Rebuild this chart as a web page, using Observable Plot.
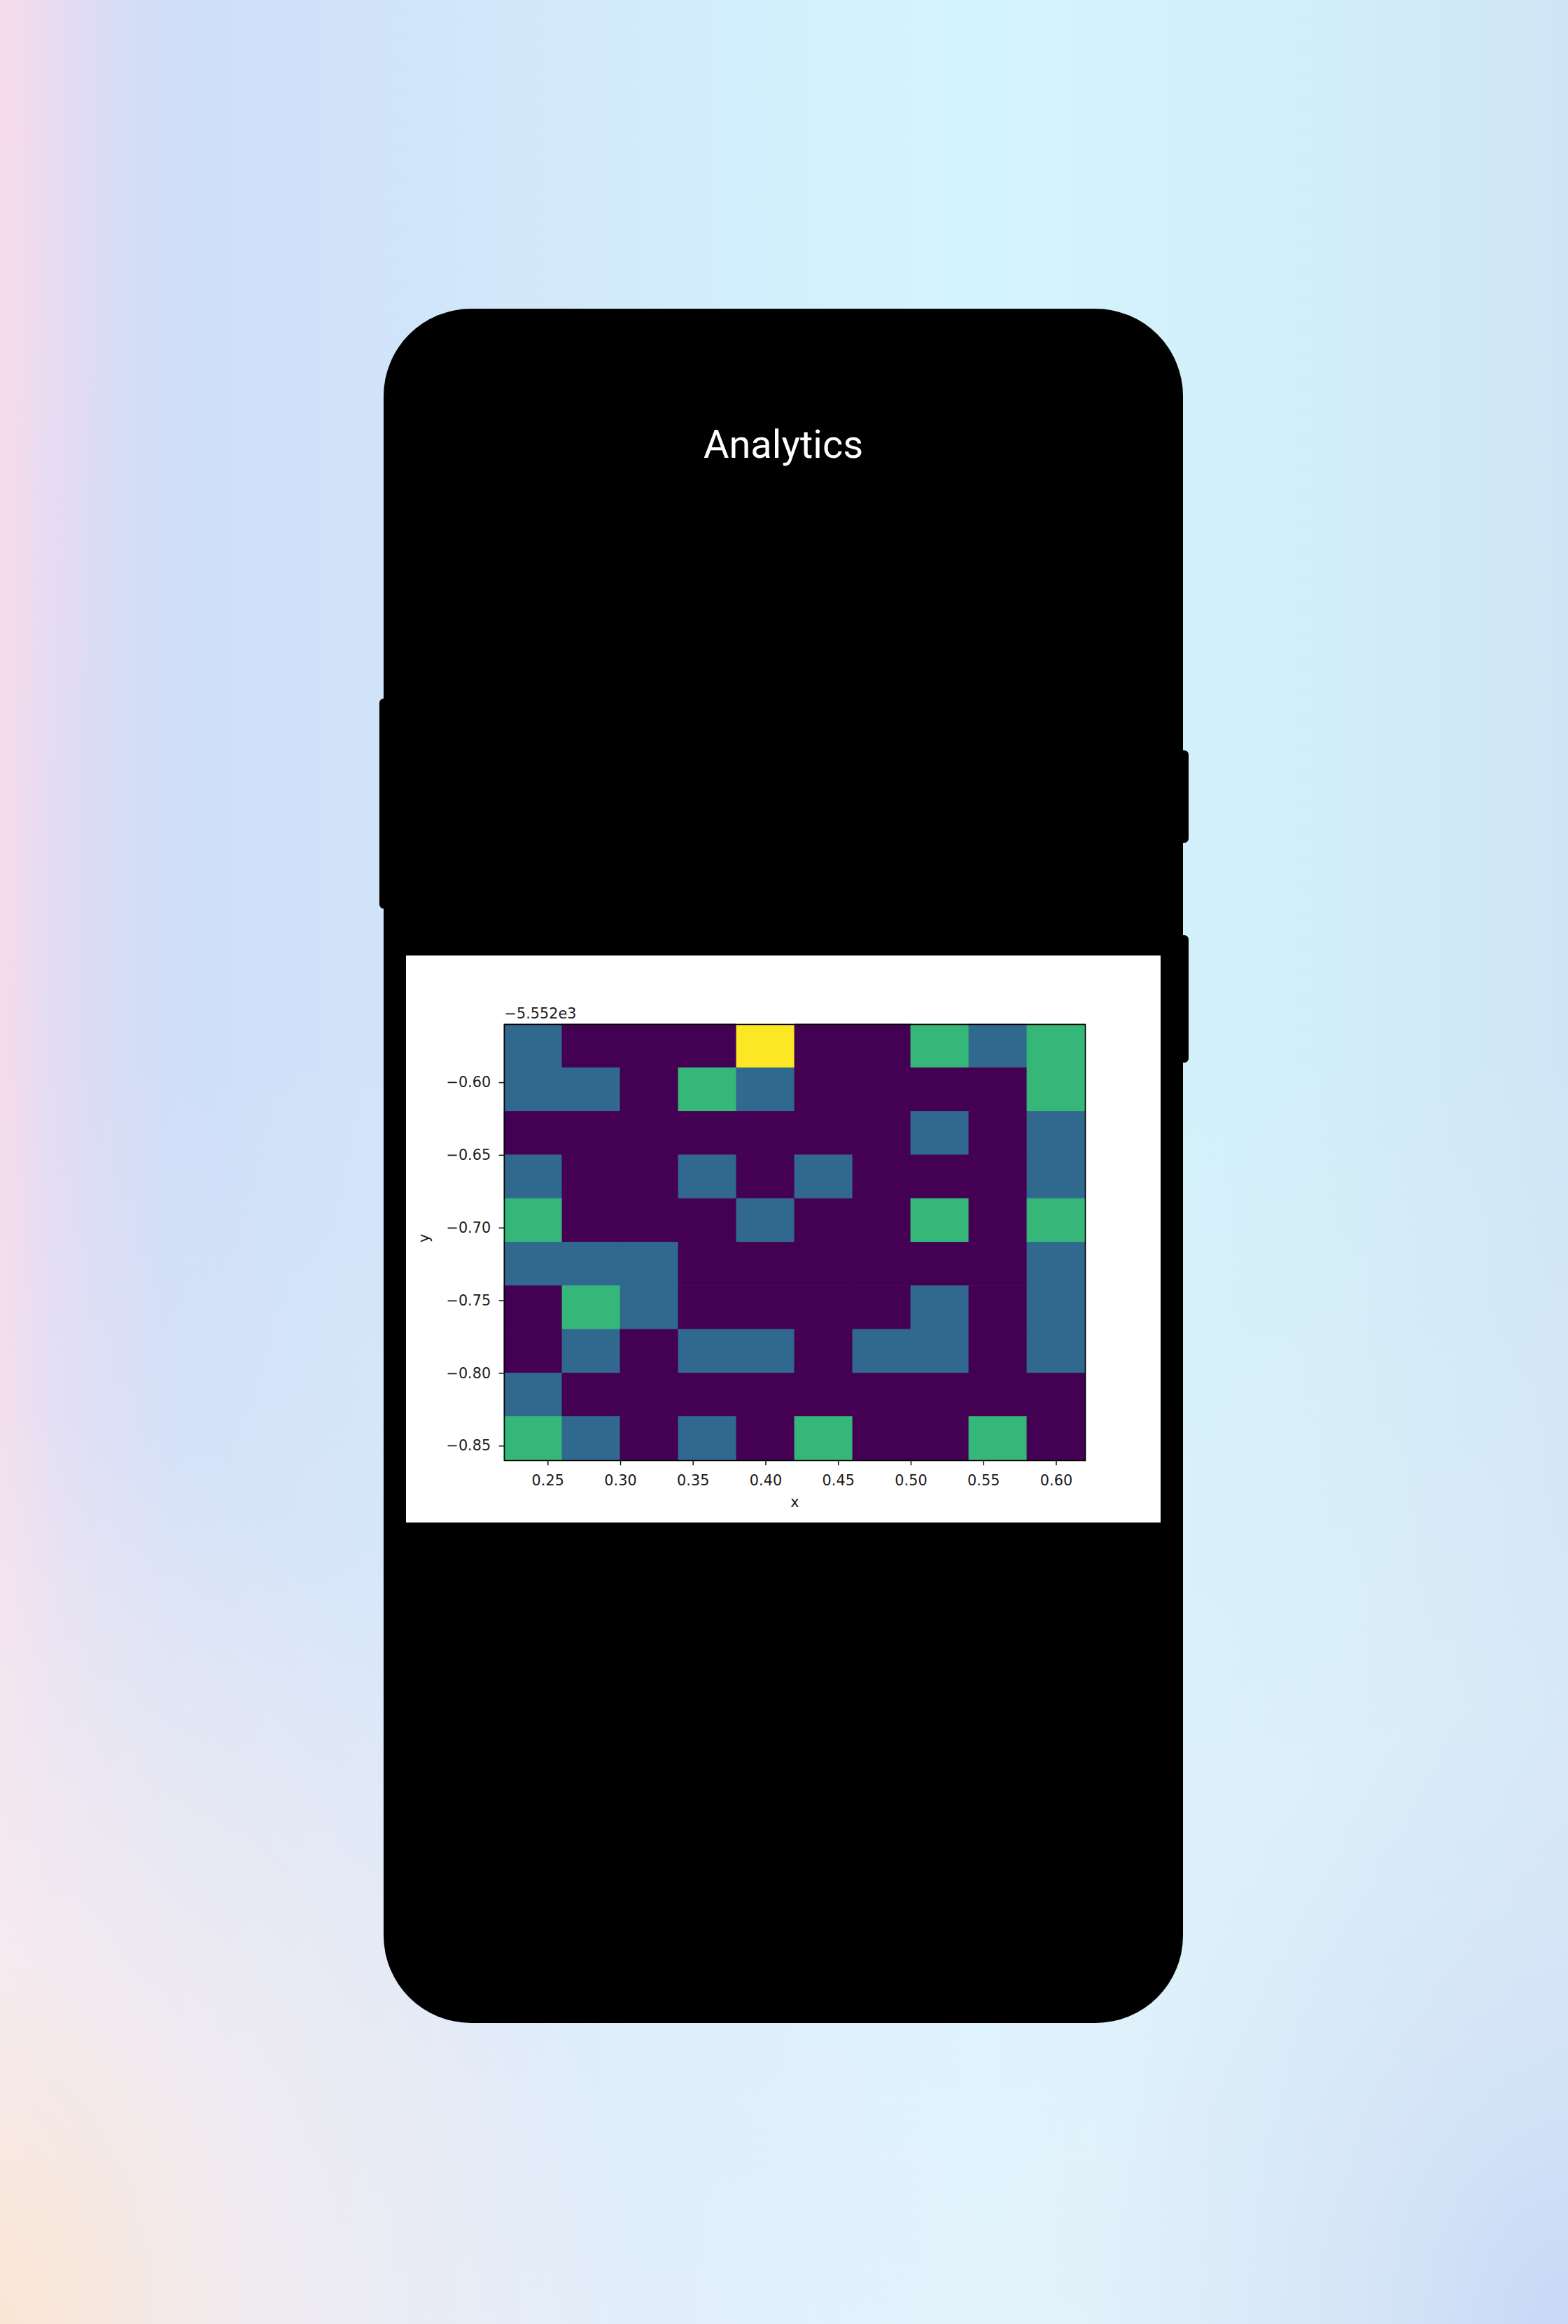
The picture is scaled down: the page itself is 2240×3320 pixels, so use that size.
<!DOCTYPE html>
<html>
<head>
<meta charset="utf-8">
<script src="https://cdn.jsdelivr.net/npm/d3@7"></script>
<script src="https://cdn.jsdelivr.net/npm/@observablehq/plot@0.6"></script>
<style>
  html, body { margin: 0; padding: 0; }
  body { width: 2240px; height: 3320px; position: relative; overflow: hidden; }
  #bg {
    position: absolute; left: 0; top: 0; width: 2240px; height: 3320px;
    background:
      radial-gradient(ellipse 900px 1300px at 0% 100%, rgba(250,230,212,1) 0%, rgba(246,236,238,0.75) 40%, rgba(240,240,250,0) 100%),
      radial-gradient(ellipse 700px 900px at 100% 100%, rgba(200,216,246,1) 0%, rgba(205,222,246,0.6) 40%, rgba(210,235,248,0) 100%),
      linear-gradient(to bottom, rgba(238,241,250,0) 45%, rgba(238,241,250,0.55) 100%),
      linear-gradient(90deg, rgba(246,220,234,0.95) 0px, rgba(236,220,240,0.55) 70px, rgba(225,222,245,0) 240px),
      radial-gradient(ellipse 160px 1400px at 0% 5%, rgba(245,214,236,1) 0%, rgba(235,218,242,0.5) 50%, rgba(220,220,245,0) 100%),
      linear-gradient(90deg, #ded9f4 0%, #d2dcf7 6%, #cfdff8 14%, #d2e9fb 35%, #d4f4fd 62%, #d2eef8 85%, #cfe5f5 100%);
  }
  .blk { position: absolute; background: #000; }
  #phone { left: 548px; top: 441px; width: 1142px; height: 2449px; border-radius: 125px; }
  #btnL { left: 542px; top: 998px; width: 14px; height: 300px; border-radius: 6px; }
  #btnR1 { left: 1684px; top: 1072px; width: 14px; height: 132px; border-radius: 6px; }
  #btnR2 { left: 1684px; top: 1336px; width: 14px; height: 182px; border-radius: 6px; }
  #title {
    position: absolute; left: 548px; width: 1142px; top: 607px;
    text-align: center; color: #fff; font-family: Roboto, "Noto Sans", sans-serif;
    font-size: 56px; line-height: 56px;
  }
  #card { position: absolute; left: 580px; top: 1365px; width: 1078px; height: 810px; background: #fff; }
  #card svg { display: block; }
</style>
</head>
<body>
<div id="bg"></div>
<div id="btnL" class="blk"></div>
<div id="btnR1" class="blk"></div>
<div id="btnR2" class="blk"></div>
<div id="phone" class="blk"></div>
<div id="title">Analytics</div>
<div id="card"></div>
<script>
// Bin edges (x in data units; y relative to the offset -5.552e3)
const xEdges = [0.22, 0.26, 0.30, 0.34, 0.38, 0.42, 0.46, 0.50, 0.54, 0.58, 0.62];
const yEdges = [-0.56, -0.59, -0.62, -0.65, -0.68, -0.71, -0.74, -0.77, -0.80, -0.83, -0.86];

// Counts per cell, rows from top (y = -0.56) to bottom (y = -0.86)
const counts = [
  [1, 0, 0, 0, 3, 0, 0, 2, 1, 2],
  [1, 1, 0, 2, 1, 0, 0, 0, 0, 2],
  [0, 0, 0, 0, 0, 0, 0, 1, 0, 1],
  [1, 0, 0, 1, 0, 1, 0, 0, 0, 1],
  [2, 0, 0, 0, 1, 0, 0, 2, 0, 2],
  [1, 1, 1, 0, 0, 0, 0, 0, 0, 1],
  [0, 2, 1, 0, 0, 0, 0, 1, 0, 1],
  [0, 1, 0, 1, 1, 0, 1, 1, 0, 1],
  [1, 0, 0, 0, 0, 0, 0, 0, 0, 0],
  [2, 1, 0, 1, 0, 2, 0, 0, 2, 0]
];

const xTicks = [0.25, 0.30, 0.35, 0.40, 0.45, 0.50, 0.55, 0.60];
const yTicks = [-0.60, -0.65, -0.70, -0.75, -0.80, -0.85];
const offsetLabel = "\u22125.552e3";
const xLabel = "x";
const yLabel = "y";
const countDomain = [0, 3];

const cells = [];
counts.forEach((row, r) => row.forEach((c, k) => {
  cells.push({x1: xEdges[k], x2: xEdges[k + 1], y1: yEdges[r + 1], y2: yEdges[r], count: c});
}));

const fmt = d3.format(".2f");
const FS = 20.8;

const chart = Plot.plot({
  width: 1078,
  height: 810,
  marginLeft: 140,
  marginRight: 108,
  marginTop: 98,
  marginBottom: 89,
  style: {background: "white", fontFamily: "'DejaVu Sans', sans-serif", fontSize: FS + "px", color: "#1a1a1a"},
  x: {domain: d3.extent(xEdges)},
  y: {domain: d3.extent(yEdges)},
  color: {type: "linear", scheme: "viridis", domain: countDomain},
  marks: [
    Plot.rect(cells, {x1: "x1", x2: "x2", y1: "y1", y2: "y2", fill: "count", stroke: "count", strokeWidth: 0.8}),
    Plot.frame({stroke: "black", strokeWidth: 1.6}),
    Plot.axisX({ticks: xTicks, tickFormat: fmt, tickSize: 7.3, tickPadding: 13, strokeWidth: 1.6, label: null, fontSize: FS}),
    Plot.axisY({ticks: yTicks, tickFormat: fmt, tickSize: 7.3, tickPadding: 12, strokeWidth: 1.6, label: null, fontSize: FS}),
    Plot.text([xLabel], {text: d => d, frameAnchor: "bottom", dy: 60, lineAnchor: "middle", fontSize: FS}),
    Plot.text([yLabel], {text: d => d, frameAnchor: "left", rotate: -90, dx: -114, lineAnchor: "middle", fontSize: FS}),
    Plot.text([offsetLabel], {text: d => d, frameAnchor: "top-left", textAnchor: "start", dy: -15, lineAnchor: "middle", fontSize: FS})
  ]
});
document.getElementById("card").appendChild(chart);
</script>
</body>
</html>
